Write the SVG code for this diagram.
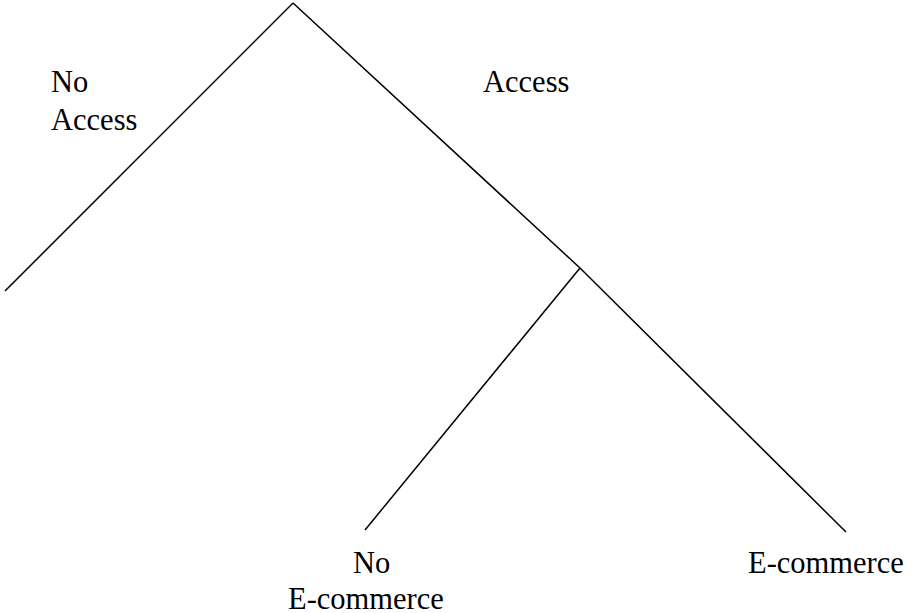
<svg xmlns="http://www.w3.org/2000/svg" width="911" height="613" viewBox="0 0 911 613">
<style>
.l{stroke:#000;stroke-width:1.5;fill:none;stroke-linejoin:miter}
.t{font-family:"Liberation Serif","Times New Roman",serif;font-size:30.5px;fill:#000}
</style>
<rect width="911" height="613" fill="#fff"/>
<g id="connectors">
<line class="l" x1="293" y1="3" x2="5" y2="291"/>
<polyline class="l" points="293,3 580,268 846,532"/>
<line class="l" x1="580" y1="268" x2="365" y2="530"/>
</g>
<g id="no-access"><text class="t" x="51" y="92">No</text><text class="t" x="51" y="130">Access</text></g>
<g id="access"><text class="t" x="483" y="92">Access</text></g>
<g id="no-ecommerce"><text class="t" x="353" y="573">No</text><text class="t" x="288" y="609">E-commerce</text></g>
<g id="ecommerce"><text class="t" x="748" y="573">E-commerce</text></g>
</svg>
